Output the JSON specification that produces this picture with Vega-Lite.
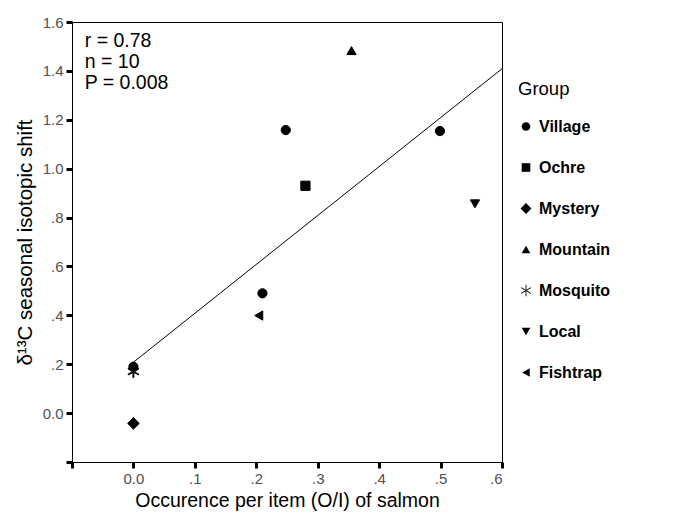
{
  "$schema": "https://vega.github.io/schema/vega-lite/v6.json",
  "autosize": "none",
  "padding": {"left": 72, "top": 22, "right": 183, "bottom": 66},
  "width": 430,
  "height": 440,
  "background": "white",
  "config": {
    "font": "Liberation Sans",
    "view": {"stroke": "black", "strokeWidth": 1},
    "axis": {
      "domainColor": "black",
      "domainWidth": 1,
      "tickColor": "black",
      "tickWidth": 3,
      "tickSize": 6,
      "grid": false,
      "labelFont": "Liberation Sans",
      "labelFontSize": 15,
      "labelColor": "#505050",
      "labelPadding": 3,
      "titleFont": "Liberation Sans",
      "titleFontSize": 19.5,
      "titleFontWeight": "normal",
      "titleColor": "black"
    }
  },
  "datasets": {
    "pts": [
      {"x": 0.248, "y": 1.158, "group": "Village"},
      {"x": 0.499, "y": 1.154, "group": "Village"},
      {"x": 0.21, "y": 0.49, "group": "Village"},
      {"x": 0.0, "y": 0.19, "group": "Village"},
      {"x": 0.28, "y": 0.93, "group": "Ochre"},
      {"x": 0.0, "y": -0.042, "group": "Mystery"},
      {"x": 0.355, "y": 1.483, "group": "Mountain"},
      {"x": 0.0, "y": 0.17, "group": "Mosquito"},
      {"x": 0.556, "y": 0.856, "group": "Local"},
      {"x": 0.204, "y": 0.399, "group": "Fishtrap"}
    ],
    "stats": [
      {"label": "r = 0.78\nn = 10\nP = 0.008"}
    ]
  },
  "layer": [
    {
      "data": {"name": "pts"},
      "transform": [{"regression": "y", "on": "x", "extent": [0, 0.6]}],
      "mark": {"type": "line", "color": "black", "strokeWidth": 1},
      "encoding": {
        "x": {"field": "x", "type": "quantitative"},
        "y": {"field": "y", "type": "quantitative"}
      }
    },
    {
      "data": {"name": "pts"},
      "mark": {"type": "point", "filled": true, "color": "black", "stroke": "black", "strokeWidth": 1, "opacity": 1, "size": 85},
      "encoding": {
        "x": {
          "field": "x", "type": "quantitative",
          "scale": {"domain": [-0.1, 0.6], "nice": false, "zero": false},
          "axis": {
            "title": "Occurence per item (O/I) of salmon",
            "values": [-0.1, 0, 0.1, 0.2, 0.3, 0.4, 0.5, 0.6],
            "labelExpr": "datum.value < -0.01 ? '' : abs(datum.value) < 0.01 ? '0.0' : replace(format(datum.value, '.1f'), '0.', '.')",
            "titlePadding": 5
          }
        },
        "y": {
          "field": "y", "type": "quantitative",
          "scale": {"domain": [-0.2, 1.6], "nice": false, "zero": false},
          "axis": {
            "title": "δ¹³C seasonal isotopic shift",
            "titleFontSize": 20.5,
            "values": [-0.2, 0, 0.2, 0.4, 0.6, 0.8, 1.0, 1.2, 1.4, 1.6],
            "labelExpr": "datum.value < -0.01 ? '' : abs(datum.value) < 0.01 ? '0.0' : datum.value < 0.99 ? replace(format(datum.value, '.1f'), '0.', '.') : format(datum.value, '.1f')",
            "titlePadding": 7
          }
        },
        "shape": {
          "field": "group", "type": "nominal",
          "scale": {
            "domain": ["Village", "Ochre", "Mystery", "Mountain", "Mosquito", "Local", "Fishtrap"],
            "range": [
              "circle",
              "square",
              "M-1.25,0L0,-1.25L1.25,0L0,1.25Z",
              "triangle-up",
              "M-0.1,-1.3L0.1,-1.3L0.1,1.3L-0.1,1.3ZM1.076,0.737L1.176,0.563L-1.076,-0.737L-1.176,-0.563ZM1.176,-0.563L1.076,-0.737L-1.176,0.563L-1.076,0.737Z",
              "triangle-down",
              "triangle-left"
            ]
          },
          "legend": {
            "title": "Group",
            "orient": "none",
            "legendX": 446,
            "legendY": 58,
            "titleFont": "Liberation Sans",
            "titleFontSize": 18.5,
            "titleFontWeight": "normal",
            "titleColor": "black",
            "titlePadding": 20,
            "labelFont": "Liberation Sans",
            "labelFontSize": 16,
            "labelFontWeight": "bold",
            "labelColor": "black",
            "labelOffset": 5,
            "symbolSize": 75,
            "symbolFillColor": "black",
            "symbolStrokeColor": "black",
            "symbolStrokeWidth": 1,
            "rowPadding": 25
          }
        }
      }
    },
    {
      "data": {"name": "stats"},
      "mark": {
        "type": "text",
        "align": "left",
        "baseline": "alphabetic",
        "font": "Liberation Sans",
        "fontSize": 19.5,
        "fontWeight": "normal",
        "lineHeight": 20.7,
        "lineBreak": "\n",
        "color": "black"
      },
      "encoding": {
        "text": {"field": "label", "type": "nominal"},
        "x": {"datum": -0.0793},
        "y": {"datum": 1.4965}
      }
    }
  ]
}
